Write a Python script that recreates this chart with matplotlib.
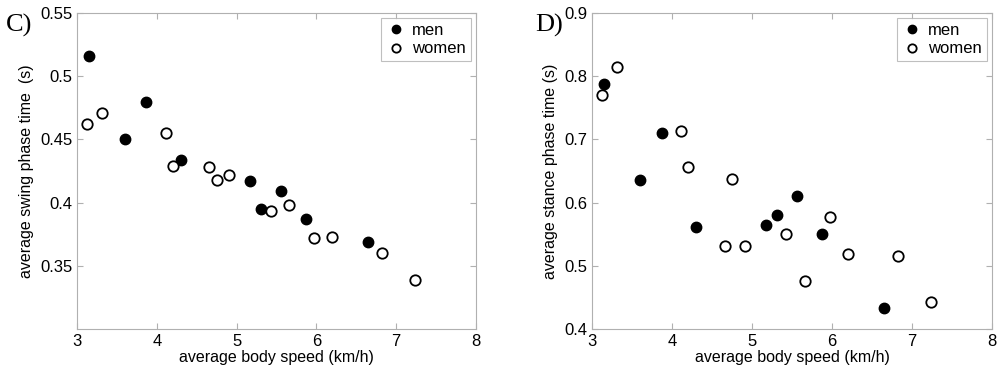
import matplotlib
matplotlib.use("Agg")
import matplotlib.pyplot as plt

# speeds (km/h)
men_speed = [3.15, 3.60, 3.87, 4.30, 5.17, 5.31, 5.56, 5.87, 6.65]
women_speed = [3.12, 3.31, 4.11, 4.20, 4.66, 4.75, 4.91, 5.43, 5.66, 5.97, 6.20, 6.82, 7.24]

# swing phase time (s)
men_swing = [0.516, 0.450, 0.480, 0.434, 0.417, 0.395, 0.409, 0.387, 0.369]
women_swing = [0.462, 0.471, 0.455, 0.429, 0.428, 0.418, 0.422, 0.393, 0.398, 0.372, 0.373, 0.360, 0.339]

# stance phase time (s)
men_stance = [0.787, 0.635, 0.710, 0.562, 0.565, 0.581, 0.611, 0.551, 0.433]
women_stance = [0.770, 0.814, 0.714, 0.657, 0.532, 0.638, 0.532, 0.551, 0.476, 0.578, 0.519, 0.516, 0.443]

xticks = [3, 4, 5, 6, 7, 8]
swing_ticks = [0.35, 0.4, 0.45, 0.5, 0.55]
swing_labels = ["0.35", "0.4", "0.45", "0.5", "0.55"]
stance_ticks = [0.4, 0.5, 0.6, 0.7, 0.8, 0.9]
stance_labels = ["0.4", "0.5", "0.6", "0.7", "0.8", "0.9"]

plt.rcParams['font.family'] = ['Liberation Sans', 'DejaVu Sans']
plt.rcParams['font.size'] = 10.5

fig = plt.figure(figsize=(10, 3.73), dpi=100)
ax1 = fig.add_axes([0.077, 0.118, 0.399, 0.847])
ax2 = fig.add_axes([0.592, 0.118, 0.400, 0.847])

def style(ax):
    for s in ax.spines.values():
        s.set_color('#b0b0b0')
        s.set_linewidth(0.8)
    ax.tick_params(direction='in', top=True, right=True, color='#b0b0b0',
                   labelcolor='black', length=4, width=0.8, labelsize=12)
    ax.set_xlim(3, 8)
    ax.set_xticks(xticks)
    ax.set_xlabel("average body speed (km/h)", fontsize=11.5, labelpad=1)

def scatter(ax, ym, yw):
    ax.plot(men_speed, ym, 'o', color='black', markersize=7.5, label='men', clip_on=False)
    ax.plot(women_speed, yw, 'o', markerfacecolor='white', markeredgecolor='black',
            markeredgewidth=1.3, markersize=7.5, label='women', clip_on=False)
    leg = ax.legend(loc='upper right', fancybox=False, edgecolor='#b0b0b0',
                    fontsize=12, markerscale=0.8, handletextpad=0.4,
                    borderaxespad=0.3, labelspacing=0.2, handlelength=1.2,
                    borderpad=0.3)
    leg.get_frame().set_linewidth(0.8)

scatter(ax1, men_swing, women_swing)
style(ax1)
ax1.set_ylim(0.3, 0.55)
ax1.set_yticks(swing_ticks)
ax1.set_yticklabels(swing_labels)
ax1.set_ylabel("average swing phase time  (s)", fontsize=11.5, labelpad=4)

scatter(ax2, men_stance, women_stance)
style(ax2)
ax2.set_ylim(0.4, 0.9)
ax2.set_yticks(stance_ticks)
ax2.set_yticklabels(stance_labels)
ax2.set_ylabel("average stance phase time (s)", fontsize=11.5, labelpad=4)

fig.text(0.006, 0.915, "C)", fontsize=19, family='Liberation Serif')
fig.text(0.535, 0.915, "D)", fontsize=19, family='Liberation Serif')

fig.savefig("out.png", dpi=100, facecolor='white')
